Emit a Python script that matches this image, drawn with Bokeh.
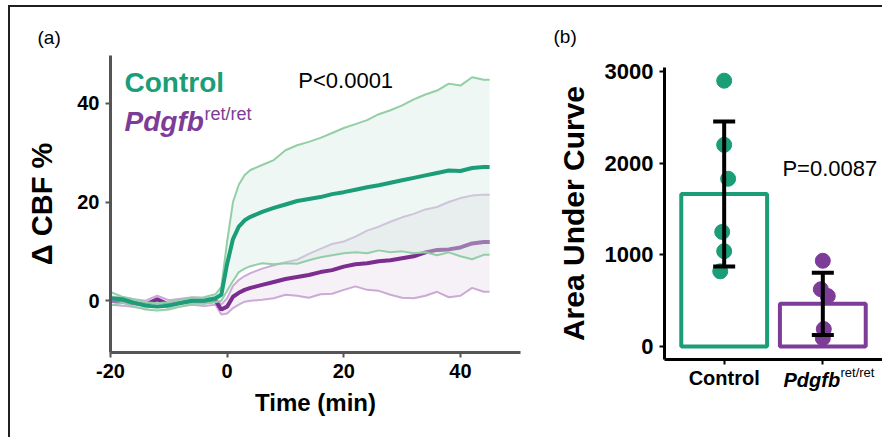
from bokeh.plotting import figure
from bokeh.layouts import row
from bokeh.models import ColumnDataSource, Range1d, FixedTicker, Label, Whisker, TeeHead
from bokeh.embed import file_html
from bokeh.resources import INLINE

# ---------------- data: panel (a) ----------------
time_min = [-20, -18, -16, -14, -12, -10, -8, -6, -4, -2, -1, 0, 1, 2, 3, 4,
            6, 8, 10, 12, 14, 16, 18, 20, 22, 24, 26, 28, 30, 32, 34, 36, 38, 40, 42, 44, 45]
ctrl_mean = [0.5, 0.3, -0.4, -1.0, -1.2, -1.0, -0.5, 0.0, 0.0, 0.5, 1.2, 7.5, 12.5, 15.0, 16.3, 17.0,
             18.0, 18.8, 19.5, 20.2, 20.6, 21.0, 21.6, 22.0, 22.5, 23.0, 23.4, 23.9, 24.4, 24.9, 25.4,
             25.9, 26.4, 26.3, 26.9, 27.1, 27.1]
ctrl_upper = [1.8, 0.8, 0.3, -0.3, -0.5, -0.3, 0.2, 0.6, 0.7, 1.3, 2.8, 12.0, 20.0, 23.5, 25.5, 26.5,
              27.5, 28.5, 30.5, 31.5, 32.2, 33.0, 34.0, 35.0, 35.8, 36.6, 37.8, 38.6, 39.6, 40.8, 41.8,
              42.6, 44.0, 43.6, 45.3, 44.8, 44.8]
ctrl_lower = [-1.0, -0.4, -1.2, -1.8, -2.0, -1.8, -1.2, -0.6, -0.6, -0.3, 0.0, 2.0, 4.0, 5.8, 6.5, 7.0,
              7.6, 7.4, 7.6, 7.5, 8.2, 8.8, 9.2, 9.6, 9.8, 9.6, 10.2, 9.8, 10.0, 9.6, 9.8,
              9.2, 9.8, 9.0, 8.4, 9.3, 9.3]
pdgfb_mean = [0.0, -0.2, -0.5, -0.8, 0.3, -0.8, -0.4, 0.0, -0.3, 0.0, -1.8, -1.2, 0.8, 1.6, 2.2, 2.6,
              3.2, 3.8, 4.4, 4.8, 5.2, 5.8, 6.2, 6.9, 7.4, 7.6, 8.0, 8.2, 8.6, 9.0, 9.8,
              10.3, 10.4, 10.8, 11.6, 11.9, 11.9]
pdgfb_upper = [0.8, 0.7, 0.3, 0.0, 1.0, 0.1, 0.4, 0.7, 0.5, 0.6, -0.8, 0.5, 3.0, 4.2, 5.0, 5.6,
               6.5, 7.2, 7.8, 8.3, 9.5, 10.5, 11.5, 12.0, 13.0, 14.2, 15.0, 16.0, 16.9, 17.6, 18.5,
               19.0, 20.0, 20.8, 21.3, 21.5, 21.5]
pdgfb_lower = [-0.8, -1.0, -1.3, -1.6, -0.5, -1.6, -1.2, -0.8, -1.1, -0.8, -2.8, -2.6, -1.5, -0.8, -0.2, 0.0,
               0.2, 0.5, 1.2, 1.0, 0.6, 1.3, 1.4, 2.2, 2.9, 2.2, 2.0, 1.2, 0.6, 0.5, 1.0,
               1.8, 0.7, 1.0, 2.6, 1.8, 1.8]
time_ticks = [-20, 0, 20, 40]
cbf_ticks = [0, 20, 40]

# ---------------- data: panel (b) ----------------
group_x = [1, 2]
group_names = ["Control", "Pdgfb"]
auc_mean = [1665, 465]
auc_sd = [791, 340]
ctrl_auc = [2900, 2200, 1830, 1250, 1040, 820]
ctrl_jitter = [0.0, 0.0, 0.04, -0.02, 0.0, -0.04]
pdgfb_auc = [935, 625, 550, 190, 90]
pdgfb_jitter = [0.0, -0.02, 0.05, 0.01, 0.0]
auc_ticks = [0, 1000, 2000, 3000]

GREEN = "#1b9e77"
GREEN_EDGE = "#93cfa6"
GREEN_FILL = "#d4ece0"
PURPLE = "#7b2d90"
PURPLE_PT = "#7d3c98"
PURPLE_EDGE = "#cbaad8"
PURPLE_FILL = "#7b3294"
FONT = "Liberation Sans"

# ---------------- panel (a) ----------------
src = ColumnDataSource(dict(t=time_min, cm=ctrl_mean, cu=ctrl_upper, cl=ctrl_lower,
                            pm=pdgfb_mean, pu=pdgfb_upper, pl=pdgfb_lower))

p1 = figure(width=530, height=430, x_range=Range1d(-20, 50.3), y_range=Range1d(-10.5, 49.7),
            output_backend="svg", toolbar_location=None,
            min_border_left=100, min_border_right=20, min_border_top=48, min_border_bottom=85)
p1.frame_align = False
p1.outline_line_color = None
p1.grid.visible = False

p1.varea(x="t", y1="pl", y2="pu", source=src, fill_color=PURPLE_FILL, fill_alpha=0.07)
p1.line("t", "pu", source=src, line_color=PURPLE_EDGE, line_width=2)
p1.line("t", "pl", source=src, line_color=PURPLE_EDGE, line_width=2)
p1.line("t", "pm", source=src, line_color=PURPLE, line_width=4)
p1.varea(x="t", y1="cl", y2="cu", source=src, fill_color=GREEN_FILL, fill_alpha=0.4)
p1.line("t", "cu", source=src, line_color=GREEN_EDGE, line_width=2)
p1.line("t", "cl", source=src, line_color=GREEN_EDGE, line_width=2)
p1.line("t", "cm", source=src, line_color=GREEN, line_width=4)

p1.xaxis.ticker = FixedTicker(ticks=time_ticks)
p1.xaxis.major_label_overrides = {t: str(t) for t in time_ticks}
p1.yaxis.ticker = FixedTicker(ticks=cbf_ticks)
p1.xaxis.axis_label = "Time (min)"
p1.yaxis.axis_label = "Δ CBF %"
for ax in (p1.xaxis, p1.yaxis):
    ax.axis_line_color = "#555555"
    ax.axis_line_width = 3
    ax.major_tick_line_color = "#555555"
    ax.major_tick_line_width = 2
    ax.major_tick_out = 5
    ax.major_tick_in = 0
    ax.minor_tick_line_color = None
    ax.major_label_text_font = FONT
    ax.major_label_text_font_style = "bold"
    ax.major_label_text_font_size = "20px"
    ax.major_label_text_color = "black"
    ax.axis_label_text_font = FONT
    ax.axis_label_text_font_style = "bold"
    ax.axis_label_text_color = "black"
p1.xaxis.axis_label_text_font_size = "24px"
p1.yaxis.axis_label_text_font_size = "29px"
p1.xaxis.major_label_standoff = 6
p1.xaxis.axis_label_standoff = 8
p1.yaxis.major_label_standoff = 6
p1.yaxis.axis_label_standoff = 16

p1.add_layout(Label(x=27, y=30, x_units="canvas", y_units="canvas", text="(a)", text_font=FONT,
                    text_font_size="19px", text_baseline="middle", text_color="black"), "above")
p1.add_layout(Label(x=-17.6, y=44.2, text="Control", text_font=FONT, text_font_size="28px",
                    text_font_style="bold", text_color=GREEN, text_baseline="middle"))
p1.add_layout(Label(x=-17.6, y=36.3, text="Pdgfb", text_font=FONT, text_font_size="28px",
                    text_font_style="bold italic", text_color=PURPLE_PT, text_baseline="alphabetic"))
p1.add_layout(Label(x=-17.6, y=36.3, x_offset=80, y_offset=8, text="ret/ret", text_font=FONT,
                    text_font_size="18px", text_color=PURPLE_PT, text_baseline="alphabetic"))
p1.add_layout(Label(x=12.2, y=44.6, text="P<0.0001", text_font=FONT, text_font_size="22px",
                    text_color="black", text_baseline="middle"))

# ---------------- panel (b) ----------------
p2 = figure(width=342, height=430, x_range=Range1d(0.395, 2.605), y_range=Range1d(-142, 3044),
            output_backend="svg", toolbar_location=None,
            min_border_left=124, min_border_right=0, min_border_top=60, min_border_bottom=78)
p2.frame_align = False
p2.outline_line_color = None
p2.grid.visible = False

bar_src = ColumnDataSource(dict(x=group_x, top=auc_mean, color=[GREEN, PURPLE_PT],
                                upper=[m + s for m, s in zip(auc_mean, auc_sd)],
                                lower=[m - s for m, s in zip(auc_mean, auc_sd)]))
p2.vbar(x="x", top="top", bottom=0, width=0.87, source=bar_src, fill_color="white",
        line_color="color", line_width=4)

p2.scatter([group_x[0] + j for j in ctrl_jitter], ctrl_auc, size=15, fill_color=GREEN, line_color=GREEN)
p2.scatter([group_x[1] + j for j in pdgfb_jitter], pdgfb_auc, size=15, fill_color=PURPLE_PT, line_color=PURPLE_PT)

wh = Whisker(base="x", upper="upper", lower="lower", source=bar_src, line_width=4, line_color="black",
             upper_head=TeeHead(size=22, line_width=4, line_color="black"),
             lower_head=TeeHead(size=22, line_width=4, line_color="black"), level="overlay")
p2.add_layout(wh)

p2.xaxis.ticker = FixedTicker(ticks=group_x)
p2.xaxis.major_label_overrides = {group_x[0]: group_names[0], group_x[1]: " "}
p2.yaxis.ticker = FixedTicker(ticks=auc_ticks)
p2.yaxis.axis_label = "Area Under Curve"
for ax in (p2.xaxis, p2.yaxis):
    ax.axis_line_color = "black"
    ax.axis_line_width = 3
    ax.major_tick_line_color = "black"
    ax.major_tick_line_width = 2
    ax.major_tick_out = 5
    ax.major_tick_in = 0
    ax.minor_tick_line_color = None
    ax.major_label_text_font = FONT
    ax.major_label_text_font_style = "bold"
    ax.major_label_text_color = "black"
    ax.axis_label_text_font = FONT
    ax.axis_label_text_font_style = "bold"
    ax.axis_label_text_color = "black"
p2.yaxis.major_label_text_font_size = "22px"
p2.xaxis.major_label_text_font_size = "20px"
p2.yaxis.axis_label_text_font_size = "30px"
p2.yaxis.major_label_standoff = 6
p2.yaxis.axis_label_standoff = 12
p2.xaxis.major_label_standoff = 2

p2.add_layout(Label(x=13, y=29, x_units="canvas", y_units="canvas", text="(b)", text_font=FONT,
                    text_font_size="19px", text_baseline="middle", text_color="black"), "above")
p2.add_layout(Label(x=243, y=372, x_units="canvas", y_units="canvas", text=group_names[1],
                    text_font=FONT, text_font_size="20px", text_font_style="bold italic",
                    text_color="black", text_baseline="alphabetic"), "below")
p2.add_layout(Label(x=300, y=365, x_units="canvas", y_units="canvas", text="ret/ret",
                    text_font=FONT, text_font_size="13px", text_color="black",
                    text_baseline="alphabetic"), "below")
p2.add_layout(Label(x=1.59, y=1942, text="P=0.0087", text_font=FONT, text_font_size="22px",
                    text_color="black", text_baseline="middle"))

layout = row(p1, p2, styles={"border-top": "2px solid #231f20", "border-left": "2px solid #231f20",
                             "margin-left": "8px", "margin-top": "5px"})

open("out.html", "w").write(file_html(layout, INLINE))
